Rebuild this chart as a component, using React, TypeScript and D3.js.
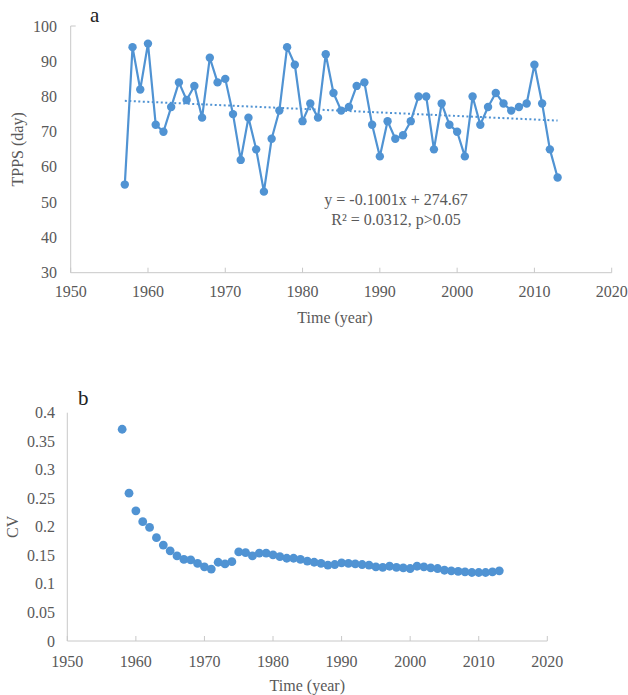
import React from "react";
import * as d3 from "d3";

const yearsA = d3.range(1957, 2014);
const tpps = [55, 94, 82, 95, 72, 70, 77, 84, 79, 83, 74, 91, 84, 85, 75, 62, 74, 65, 53, 68, 76, 94, 89, 73, 78, 74, 92, 81, 76, 77, 83, 84, 72, 63, 73, 68, 69, 73, 80, 80, 65, 78, 72, 70, 63, 80, 72, 77, 81, 78, 76, 77, 78, 89, 78, 65, 57];
const trendSlope = -0.1001;
const trendIntercept = 274.67;

const yearsB = d3.range(1958, 2014);
const cv = [0.371, 0.259, 0.228, 0.209, 0.199, 0.181, 0.168, 0.158, 0.149, 0.143, 0.142, 0.136, 0.130, 0.126, 0.138, 0.135, 0.139, 0.156, 0.155, 0.149, 0.154, 0.154, 0.151, 0.148, 0.145, 0.145, 0.143, 0.140, 0.138, 0.136, 0.133, 0.134, 0.137, 0.136, 0.135, 0.134, 0.133, 0.130, 0.129, 0.131, 0.129, 0.128, 0.127, 0.131, 0.130, 0.128, 0.127, 0.124, 0.123, 0.122, 0.121, 0.120, 0.120, 0.120, 0.121, 0.123];

const xTicks = [1950, 1960, 1970, 1980, 1990, 2000, 2010, 2020];
const yTicksA = [30, 40, 50, 60, 70, 80, 90, 100];
const yTicksB = [0, 0.05, 0.1, 0.15, 0.2, 0.25, 0.3, 0.35, 0.4];

const BLUE = "#5093d3";
const TXT = "#595959";
const AX = "#c8c8c8";
const FONT = "'Liberation Serif', 'Times New Roman', serif";

export default function App() {
  const xA = d3.scaleLinear().domain([1950, 2020]).range([70.7, 611.7]);
  const yA = d3.scaleLinear().domain([30, 100]).range([272.7, 26]);
  const xB = d3.scaleLinear().domain([1950, 2020]).range([67.3, 547.3]);
  const yB = d3.scaleLinear().domain([0, 0.4]).range([641, 412.7]);

  const lineA = d3
    .line<number>()
    .x((_, i) => xA(yearsA[i]))
    .y((d) => yA(d))(tpps) as string;

  const t0 = yearsA[0];
  const t1 = yearsA[yearsA.length - 1];

  const fmtB = (v: number) => String(+v.toFixed(2));

  return (
    <svg
      width={628}
      height={695}
      style={{ position: "absolute", left: 0, top: 0, background: "#fff" }}
      fontFamily={FONT}
    >
      {/* Panel a */}
      <g>
        <line x1={xA(1950)} x2={xA(1950)} y1={yA(100)} y2={yA(30)} stroke={AX} strokeWidth={1} />
        <line x1={xA(1950)} x2={xA(2020)} y1={yA(30)} y2={yA(30)} stroke={AX} strokeWidth={1} />
        <line x1={xA(1950)} x2={xA(1950) + 5} y1={yA(100)} y2={yA(100)} stroke={AX} strokeWidth={1} />
        {xTicks.map((t) => (
          <g key={"xa" + t}>
            <line x1={xA(t)} x2={xA(t)} y1={yA(30)} y2={yA(30) - 5} stroke={AX} strokeWidth={1} />
            <text x={xA(t)} y={yA(30) + 24} textAnchor="middle" fontSize={16} fill={TXT}>
              {t}
            </text>
          </g>
        ))}
        {yTicksA.map((t) => (
          <text key={"ya" + t} x={57} y={yA(t) + 5.5} textAnchor="end" fontSize={16} fill={TXT}>
            {t}
          </text>
        ))}
        <text x={335} y={323} textAnchor="middle" fontSize={16} fill={TXT}>
          Time (year)
        </text>
        <text
          transform={`translate(23,${(yA(100) + yA(30)) / 2}) rotate(-90)`}
          textAnchor="middle"
          fontSize={16}
          fill={TXT}
        >
          TPPS (day)
        </text>
        <text x={90} y={22} fontSize={21} fill="#222">
          a
        </text>
        <path d={lineA} fill="none" stroke={BLUE} strokeWidth={2.2} strokeLinejoin="round" />
        <line
          x1={xA(t0)}
          x2={xA(t1)}
          y1={yA(trendSlope * t0 + trendIntercept)}
          y2={yA(trendSlope * t1 + trendIntercept)}
          stroke={BLUE}
          strokeWidth={2}
          strokeDasharray="2,2.5"
        />
        {tpps.map((v, i) => (
          <circle key={"pa" + i} cx={xA(yearsA[i])} cy={yA(v)} r={4.2} fill={BLUE} />
        ))}
        <text x={396} y={205} textAnchor="middle" fontSize={16} fill={TXT}>
          y = -0.1001x + 274.67
        </text>
        <text x={396} y={225} textAnchor="middle" fontSize={16} fill={TXT}>
          R² = 0.0312, p&gt;0.05
        </text>
      </g>

      {/* Panel b */}
      <g>
        <line x1={xB(1950)} x2={xB(1950)} y1={yB(0.4)} y2={yB(0)} stroke={AX} strokeWidth={1} />
        <line x1={xB(1950)} x2={xB(2020)} y1={yB(0)} y2={yB(0)} stroke={AX} strokeWidth={1} />
        {xTicks.map((t) => (
          <g key={"xb" + t}>
            <line x1={xB(t)} x2={xB(t)} y1={yB(0)} y2={yB(0) - 5} stroke={AX} strokeWidth={1} />
            <text x={xB(t)} y={yB(0) + 26} textAnchor="middle" fontSize={16} fill={TXT}>
              {t}
            </text>
          </g>
        ))}
        {yTicksB.map((t) => (
          <text key={"yb" + t} x={55} y={yB(t) + 5.5} textAnchor="end" fontSize={16} fill={TXT}>
            {fmtB(t)}
          </text>
        ))}
        <text x={(xB(1950) + xB(2020)) / 2} y={691} textAnchor="middle" fontSize={16} fill={TXT}>
          Time (year)
        </text>
        <text
          transform={`translate(18,${(yB(0) + yB(0.4)) / 2}) rotate(-90)`}
          textAnchor="middle"
          fontSize={16}
          fill={TXT}
        >
          CV
        </text>
        <text x={78} y={405} fontSize={21} fill="#222">
          b
        </text>
        {cv.map((v, i) => (
          <circle key={"pb" + i} cx={xB(yearsB[i])} cy={yB(v)} r={4.4} fill={BLUE} />
        ))}
      </g>
    </svg>
  );
}
